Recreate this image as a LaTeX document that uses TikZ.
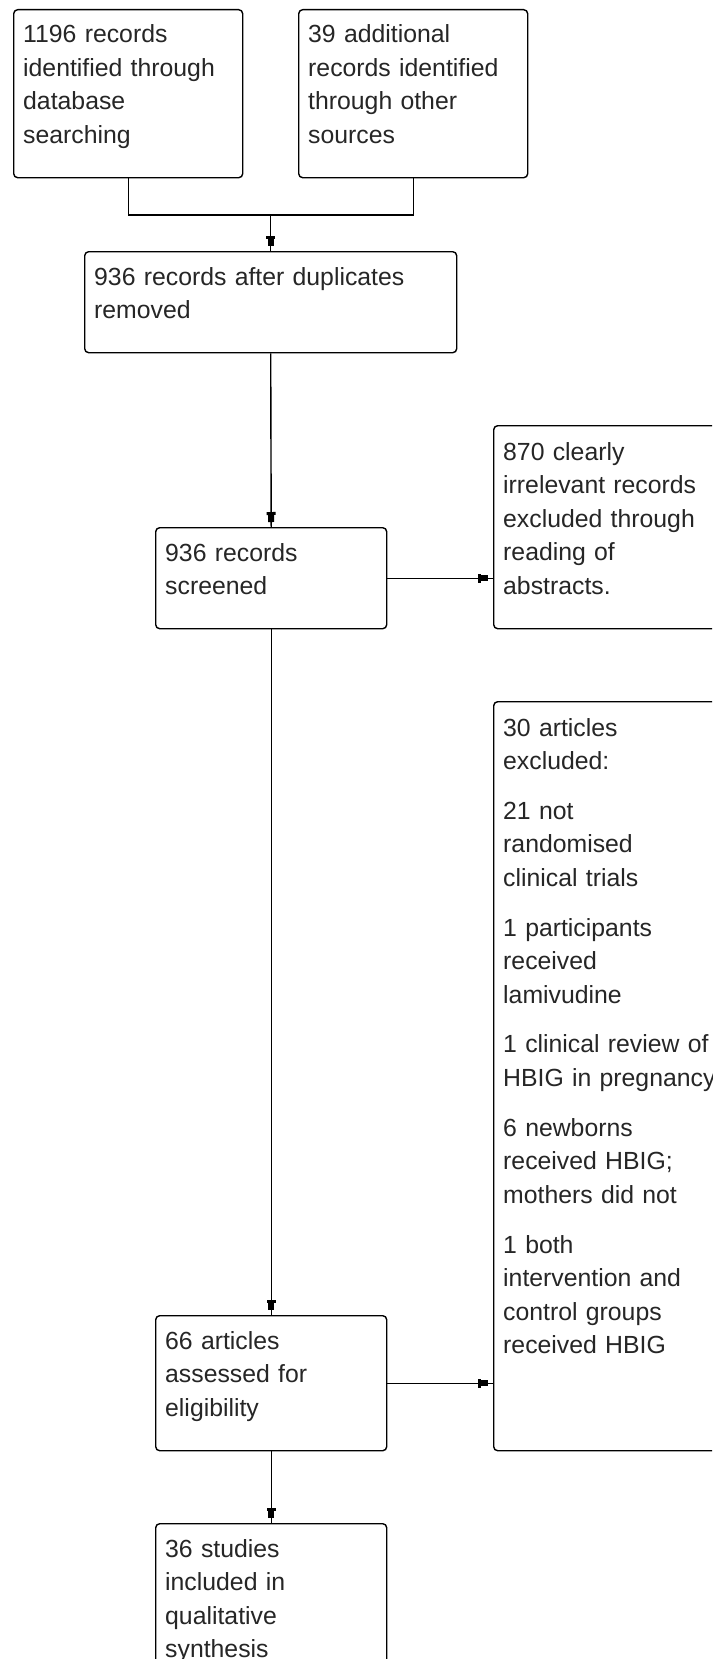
\documentclass[tikz,border=0pt]{standalone}
\usepackage{fontspec}
\setmainfont{Liberation Sans}
\usetikzlibrary{arrows.meta}
\begin{document}
\begin{tikzpicture}[x=1pt,y=-1pt,
  box/.style={draw=black, line width=1.4pt, rounded corners=4pt, inner sep=0pt, anchor=north west},
  txt/.style={anchor=base west, inner sep=0pt, text width=360pt, align=left,
    font=\fontsize{24.8pt}{33.5pt}\selectfont, text=black!85},
  link/.style={draw=black, line width=1.4pt},
  arr/.style={link, -{Rectangle[length=3pt,width=9pt,sep=0pt,line width=0pt]Rectangle[length=7pt,width=6pt,sep=0pt,line width=0pt]Rectangle[length=5pt,width=1.4pt,sep=0pt,line width=0pt]}}
]
\useasboundingbox (0,0) rectangle (712,1659);
\fill[white] (0,0) rectangle (712,1659);
\clip (0,0) rectangle (712,1659);

% boxes
\node[box, minimum width=229pt, minimum height=168pt] (b1) at (13,9) {};
\node[box, minimum width=229pt, minimum height=168pt] (b2) at (298,9) {};
\node[box, minimum width=372pt, minimum height=101pt] (b3) at (84,251) {};
\node[box, minimum width=231pt, minimum height=101pt] (b4) at (155,527) {};
\node[box, minimum width=231pt, minimum height=203pt] (b5) at (493,425) {};
\node[box, minimum width=231pt, minimum height=749pt] (b6) at (493,701) {};
\node[box, minimum width=231pt, minimum height=135pt] (b7) at (155,1315) {};
\node[box, minimum width=231pt, minimum height=170pt] (b8) at (155,1523) {};

% texts
\node[txt] (t1) at (23,43) {1196 records\\identified through\\database\\searching};
\node[txt] (t2) at (308,43) {39 additional\\records identified\\through other\\sources};
\node[txt] (t3) at (94,285) {936 records after duplicates\\removed};
\node[txt] (t4) at (165,561) {936 records\\screened};
\node[txt] (t5) at (503,460) {870 clearly\\irrelevant records\\excluded through\\reading of\\abstracts.};
\node[txt] (t6) at (503,736) {30 articles\\excluded:\\[16.3pt]21 not\\randomised\\clinical trials\\[16.3pt]1 participants\\received\\lamivudine\\[16.3pt]1 clinical review of\\HBIG in pregnancy\\[16.3pt]6 newborns\\received HBIG;\\mothers did not\\[16.3pt]1 both\\intervention and\\control groups\\received HBIG};
\node[txt] (t7) at (165,1349) {66 articles\\assessed for\\eligibility};
\node[txt] (t8) at (165,1557) {36 studies\\included in\\qualitative\\synthesis};

% connectors
\coordinate (j) at (b3.north |- 0,215);
\draw[link] (b1.south) |- (j) -| (b2.south);
\draw[arr] (j) -- (b3.north);
\draw[arr] (b3.south) -- (b4.north);
\draw[arr] (b4.east) -- (b5.west |- b4.east);
\draw[arr] (b4.south) -- (b7.north);
\draw[arr] (b7.east) -- (b6.west |- b7.east);
\draw[arr] (b7.south) -- (b8.north);
\end{tikzpicture}
\end{document}
